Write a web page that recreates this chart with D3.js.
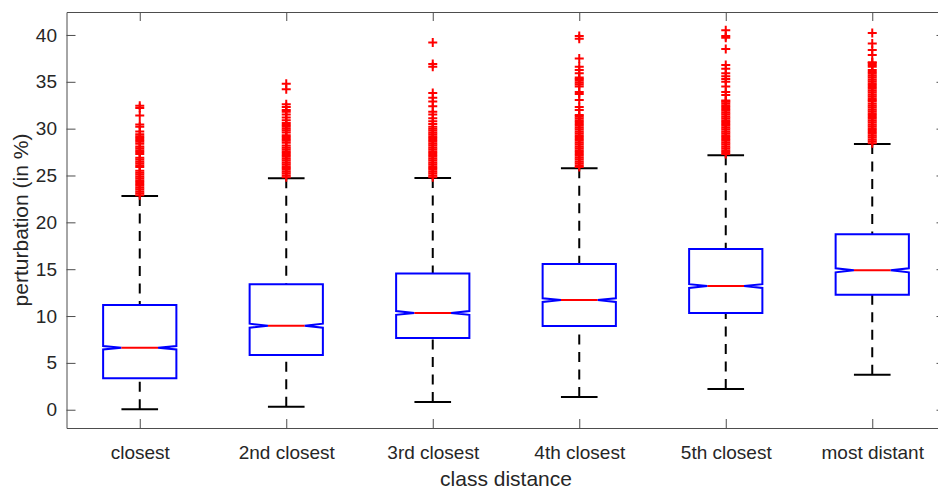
<!DOCTYPE html>
<html>
<head>
<meta charset="utf-8">
<script src="https://cdn.jsdelivr.net/npm/d3@7"></script>
<style>
  html, body { margin: 0; padding: 0; background: #ffffff; }
  svg { display: block; }
  text { font-family: "Liberation Sans", Arial, Helvetica, sans-serif; fill: #262626; }
</style>
</head>
<body>
<svg id="chart" width="938" height="489"></svg>
<script>
// ---- data ----
const categories = ["closest", "2nd closest", "3rd closest", "4th closest", "5th closest", "most distant"];
const q1Values      = [3.35, 5.84, 7.65, 8.93, 10.32, 12.27];
const medianValues  = [6.62, 8.97, 10.33, 11.70, 13.20, 14.88];
const q3Values      = [11.17, 13.38, 14.55, 15.55, 17.15, 18.72];
const whiskerLow    = [0.05, 0.32, 0.82, 1.36, 2.20, 3.74];
const whiskerHigh   = [22.80, 24.70, 24.73, 25.76, 27.15, 28.36];
const notchHalf     = [0.18, 0.21, 0.20, 0.20, 0.20, 0.21];
const yTickValues   = [0, 5, 10, 15, 20, 25, 30, 35, 40];

const outliers1 = [22.9,23.1,23.3,23.5,23.7,23.9,24.1,24.3,24.5,24.7,24.9,25.1,25.3,25.5,25.9,26.1,26.3,26.5,26.7,26.9,27.3,27.5,27.7,27.9,28.1,28.4,28.6,28.8,29.0,29.2,29.4,29.7,30.2,30.45,31.4,32.2,32.45];
const outliers2 = [24.8,25.0,25.2,25.4,25.6,25.8,26.0,26.2,26.4,26.6,26.8,27.0,27.2,27.4,27.6,27.8,28.0,28.2,28.5,28.7,28.9,29.1,29.3,29.6,29.8,30.0,30.2,30.4,30.6,30.9,31.2,31.5,31.8,32.0,32.3,32.6,34.2,34.8];
const outliers3 = [24.8,25.0,25.2,25.4,25.6,25.8,26.0,26.2,26.4,26.6,26.8,27.0,27.2,27.4,27.6,27.8,28.0,28.2,28.4,28.6,28.8,29.0,29.2,29.4,29.6,29.8,30.0,30.2,30.5,30.8,31.1,31.5,31.8,32.4,32.9,33.3,33.8,36.6,36.9,39.2];
const outliers4 = [25.9,26.1,26.3,26.5,26.7,26.9,27.1,27.3,27.5,27.7,27.9,28.1,28.3,28.5,28.7,28.9,29.1,29.3,29.5,29.7,29.9,30.1,30.3,30.5,30.7,30.9,31.1,31.3,31.45,32.0,32.3,33.05,33.7,33.9,34.5,34.7,34.9,35.1,35.3,35.45,35.9,36.25,36.6,37.5,39.6,39.9];
const outliers5 = [27.3,27.5,27.7,27.9,28.1,28.3,28.5,28.7,28.9,29.1,29.3,29.5,29.7,29.9,30.1,30.3,30.5,30.7,30.9,31.1,31.3,31.5,31.7,31.9,32.1,32.3,32.5,32.7,32.9,33.0,33.6,33.9,34.5,35.0,35.3,35.6,35.9,36.4,36.8,38.5,39.7,39.9,40.5];
const outliers6 = [28.45,28.65,28.85,29.05,29.25,29.45,29.65,29.85,30.05,30.25,30.45,30.65,30.85,31.05,31.25,31.45,31.65,31.85,32.05,32.25,32.45,32.65,32.9,33.05,33.25,33.45,33.65,33.85,34.05,34.25,34.45,34.65,34.85,35.05,35.25,35.45,35.65,35.85,36.05,36.25,36.6,36.8,37.0,37.1,37.85,38.4,39.1,40.2];
const outlierSets = [outliers1, outliers2, outliers3, outliers4, outliers5, outliers6];

const xLabel = "class distance";
const yLabel = "perturbation (in %)";

// ---- layout ----
const mLeft = 66.5, mRight = 945.5, mTop = 12, mBottom = 428;
const axisColor = "#4d4d4d";
const textColor = "#262626";

const svg = d3.select("#chart");

const x = d3.scaleLinear().domain([0.5, categories.length + 0.5]).range([mLeft, mRight]);
const y = d3.scaleLinear().domain([-1.95, 42.45]).range([mBottom, mTop]);
const boxW = x(1.5) - x(1);          // box width (0.5 category units)
const idx = categories.map((c, i) => i + 1);

const boxes = categories.map((c, i) => ({
  cat: c, pos: i + 1,
  q1: q1Values[i], med: medianValues[i], q3: q3Values[i],
  lo: whiskerLow[i], hi: whiskerHigh[i], notch: notchHalf[i],
  out: outlierSets[i]
}));

const plot = svg.append("g");

// whiskers (dashed)
plot.selectAll(".whisk-hi").data(boxes).join("line")
  .attr("x1", d => x(d.pos)).attr("x2", d => x(d.pos))
  .attr("y1", d => y(d.hi)).attr("y2", d => y(d.q3))
  .attr("stroke", "#000").attr("stroke-width", 2).attr("stroke-dasharray", "10,7.5");
plot.selectAll(".whisk-lo").data(boxes).join("line")
  .attr("x1", d => x(d.pos)).attr("x2", d => x(d.pos))
  .attr("y1", d => y(d.lo)).attr("y2", d => y(d.q1))
  .attr("stroke", "#000").attr("stroke-width", 2).attr("stroke-dasharray", "10,7.5");
// caps
["hi", "lo"].forEach(k => {
  plot.selectAll(".cap-" + k).data(boxes).join("line")
    .attr("x1", d => x(d.pos) - boxW / 4).attr("x2", d => x(d.pos) + boxW / 4)
    .attr("y1", d => y(d[k])).attr("y2", d => y(d[k]))
    .attr("stroke", "#000").attr("stroke-width", 2);
});

// notched boxes
plot.selectAll(".box").data(boxes).join("path")
  .attr("d", d => {
    const l = x(d.pos) - boxW / 2, r = x(d.pos) + boxW / 2;
    const il = x(d.pos) - boxW / 4, ir = x(d.pos) + boxW / 4;
    const p = d3.path();
    p.moveTo(l, y(d.q3));
    p.lineTo(r, y(d.q3));
    p.lineTo(r, y(d.med + d.notch));
    p.lineTo(ir, y(d.med));
    p.lineTo(r, y(d.med - d.notch));
    p.lineTo(r, y(d.q1));
    p.lineTo(l, y(d.q1));
    p.lineTo(l, y(d.med - d.notch));
    p.lineTo(il, y(d.med));
    p.lineTo(l, y(d.med + d.notch));
    p.closePath();
    return p.toString();
  })
  .attr("fill", "none").attr("stroke", "#0000ff").attr("stroke-width", 2)
  .attr("stroke-linejoin", "miter");

// medians
plot.selectAll(".median").data(boxes).join("line")
  .attr("x1", d => x(d.pos) - boxW / 4).attr("x2", d => x(d.pos) + boxW / 4)
  .attr("y1", d => y(d.med)).attr("y2", d => y(d.med))
  .attr("stroke", "#ff0000").attr("stroke-width", 2);

// outliers '+'
const s = 4.5;
plot.selectAll(".outg").data(boxes).join("g")
  .each(function(d) {
    d3.select(this).selectAll("path").data(d.out).join("path")
      .attr("transform", v => `translate(${x(d.pos)},${y(v)})`)
      .attr("d", `M${-s},0H${s}M0,${-s}V${s}`)
      .attr("stroke", "#ff0000").attr("stroke-width", 2).attr("fill", "none");
  });

// ---- axes ----
const tickLen = 9;
function styleAxis(g) {
  g.select(".domain").attr("stroke", axisColor).attr("stroke-width", 1);
  g.selectAll(".tick line").attr("stroke", axisColor).attr("stroke-width", 1);
  g.selectAll("text").attr("fill", textColor).attr("font-family", '"Liberation Sans", Arial, sans-serif');
}

svg.append("g").attr("transform", `translate(${mLeft},0)`)
  .call(d3.axisLeft(y).tickValues(yTickValues).tickSizeInner(-tickLen).tickSizeOuter(0).tickPadding(9.5))
  .call(styleAxis)
  .call(g => g.selectAll("text").attr("font-size", 19));

svg.append("g").attr("transform", `translate(${mRight},0)`)
  .call(d3.axisRight(y).tickValues(yTickValues).tickSizeInner(-tickLen).tickSizeOuter(0).tickFormat(""))
  .call(styleAxis);

svg.append("g").attr("transform", `translate(0,${mBottom})`)
  .call(d3.axisBottom(x).tickValues(idx).tickFormat(i => categories[i - 1]).tickSizeInner(-tickLen).tickSizeOuter(0).tickPadding(17.5))
  .call(styleAxis)
  .call(g => g.selectAll("text").attr("font-size", 19));

svg.append("g").attr("transform", `translate(0,${mTop})`)
  .call(d3.axisTop(x).tickValues(idx).tickSizeInner(-tickLen).tickSizeOuter(0).tickFormat(""))
  .call(styleAxis);

// axis labels
svg.append("text")
  .attr("x", (mLeft + mRight) / 2).attr("y", 486)
  .attr("text-anchor", "middle").attr("font-size", 21).attr("fill", textColor)
  .text(xLabel);

svg.append("text")
  .attr("transform", `translate(28,${(mTop + mBottom) / 2}) rotate(-90)`)
  .attr("text-anchor", "middle").attr("font-size", 21).attr("fill", textColor)
  .text(yLabel);
</script>
</body>
</html>
